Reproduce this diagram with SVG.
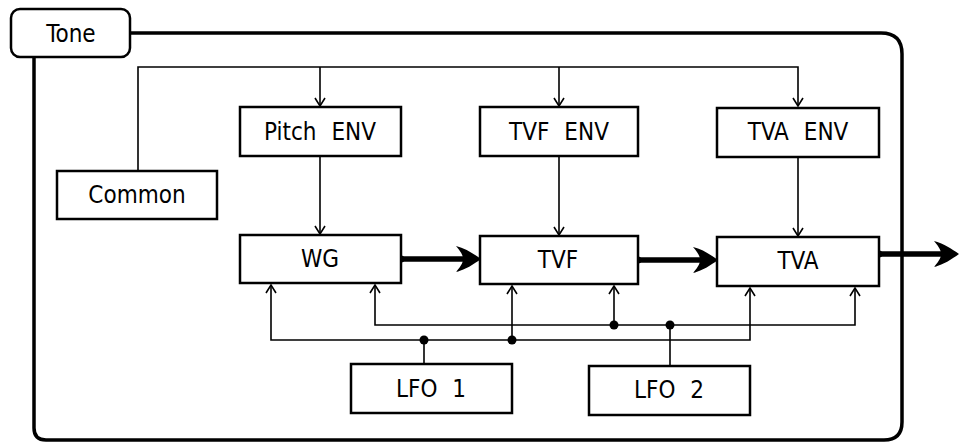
<svg xmlns="http://www.w3.org/2000/svg" width="963" height="444" viewBox="0 0 963 444">
<style>
.box{fill:#fff;stroke:#000;stroke-width:2.5}
.frame{fill:none;stroke:#000;stroke-width:3.5}
.wire{fill:none;stroke:#000;stroke-width:1.6}
.thick{fill:none;stroke:#000;stroke-width:5.5}
.lbl{font-family:"DejaVu Sans Condensed","Liberation Sans",sans-serif;font-size:24px;fill:#000;text-anchor:middle;word-spacing:8px}
.dot{fill:#000}
</style>
<defs>
<marker id="open" viewBox="-10 -7 12 14" markerWidth="12" markerHeight="14" refX="0" refY="0" orient="auto-start-reverse" markerUnits="userSpaceOnUse">
<path d="M-8,-5 L0,0 L-8,5" fill="none" stroke="#000" stroke-width="1.6"/>
</marker>
<marker id="fat" viewBox="-27 -15 29 30" markerWidth="29" markerHeight="30" refX="0" refY="0" orient="auto" markerUnits="userSpaceOnUse">
<path d="M0,0 C-7,-5 -16,-11 -25,-13 C-19,-6 -18,-3 -18,0 C-18,3 -19,6 -25,13 C-16,11 -7,5 0,0 Z" fill="#000"/>
</marker>
</defs>

<g id="frame">
<path class="frame" d="M130,33 H881 Q902,33 902,54 V422 Q902,440 884,440 H46 Q34,440 34,428 V57"/>
</g>

<g id="connectors">
<path class="wire" d="M138,170 V67 H798 V106" marker-end="url(#open)"/>
<path class="wire" d="M320,67 V106" marker-end="url(#open)"/>
<path class="wire" d="M559,67 V106" marker-end="url(#open)"/>
<path class="wire" d="M320,156 V234" marker-end="url(#open)"/>
<path class="wire" d="M559,156 V235" marker-end="url(#open)"/>
<path class="wire" d="M798,157 V236" marker-end="url(#open)"/>
<path class="wire" d="M271,285 V340 H750 V288" marker-start="url(#open)" marker-end="url(#open)"/>
<path class="wire" d="M375,285 V325 H855 V288" marker-start="url(#open)" marker-end="url(#open)"/>
<path class="wire" d="M424,364 V340"/>
<path class="wire" d="M670,366 V325"/>
<path class="wire" d="M512,340 V286" marker-end="url(#open)"/>
<path class="wire" d="M614,325 V286" marker-end="url(#open)"/>
<circle class="dot" cx="424" cy="340" r="4.5"/>
<circle class="dot" cx="512" cy="340" r="4.5"/>
<circle class="dot" cx="614" cy="325" r="4.5"/>
<circle class="dot" cx="670" cy="325" r="4.5"/>
<path class="thick" d="M401,259 H464"/>
<path class="thick" d="M638,260 H701"/>
<path class="thick" d="M879,254 H941"/>
<path d="M466,259 L481,259" stroke="none" fill="none" marker-end="url(#fat)"/>
<path d="M703,260 L718,260" stroke="none" fill="none" marker-end="url(#fat)"/>
<path d="M944,254 L959,254" stroke="none" fill="none" marker-end="url(#fat)"/>
<circle class="dot" cx="401" cy="259" r="3.5"/>
<circle class="dot" cx="638" cy="260" r="3.5"/>
<circle class="dot" cx="879" cy="254" r="3.5"/>
</g>

<g id="tone">
<rect class="box" x="11" y="9" width="119" height="48" rx="9"/>
<text class="lbl" x="71" y="42">Tone</text>
</g>
<g id="common">
<rect class="box" x="57" y="171" width="160" height="48"/>
<text class="lbl" x="137" y="203">Common</text>
</g>
<g id="pitch-env">
<rect class="box" x="240" y="107" width="161" height="49"/>
<text class="lbl" x="320" y="140">Pitch ENV</text>
</g>
<g id="tvf-env">
<rect class="box" x="480" y="107" width="158" height="49"/>
<text class="lbl" x="559" y="140">TVF ENV</text>
</g>
<g id="tva-env">
<rect class="box" x="717" y="108" width="162" height="49"/>
<text class="lbl" x="798" y="140">TVA ENV</text>
</g>
<g id="wg">
<rect class="box" x="240" y="235" width="161" height="48"/>
<text class="lbl" x="320" y="267">WG</text>
</g>
<g id="tvf">
<rect class="box" x="480" y="236" width="158" height="48"/>
<text class="lbl" x="558" y="268">TVF</text>
</g>
<g id="tva">
<rect class="box" x="717" y="237" width="162" height="49"/>
<text class="lbl" x="798" y="269">TVA</text>
</g>
<g id="lfo1">
<rect class="box" x="351" y="364" width="161" height="49"/>
<text class="lbl" x="431" y="397">LFO 1</text>
</g>
<g id="lfo2">
<rect class="box" x="589" y="366" width="161" height="49"/>
<text class="lbl" x="669" y="398">LFO 2</text>
</g>
</svg>
